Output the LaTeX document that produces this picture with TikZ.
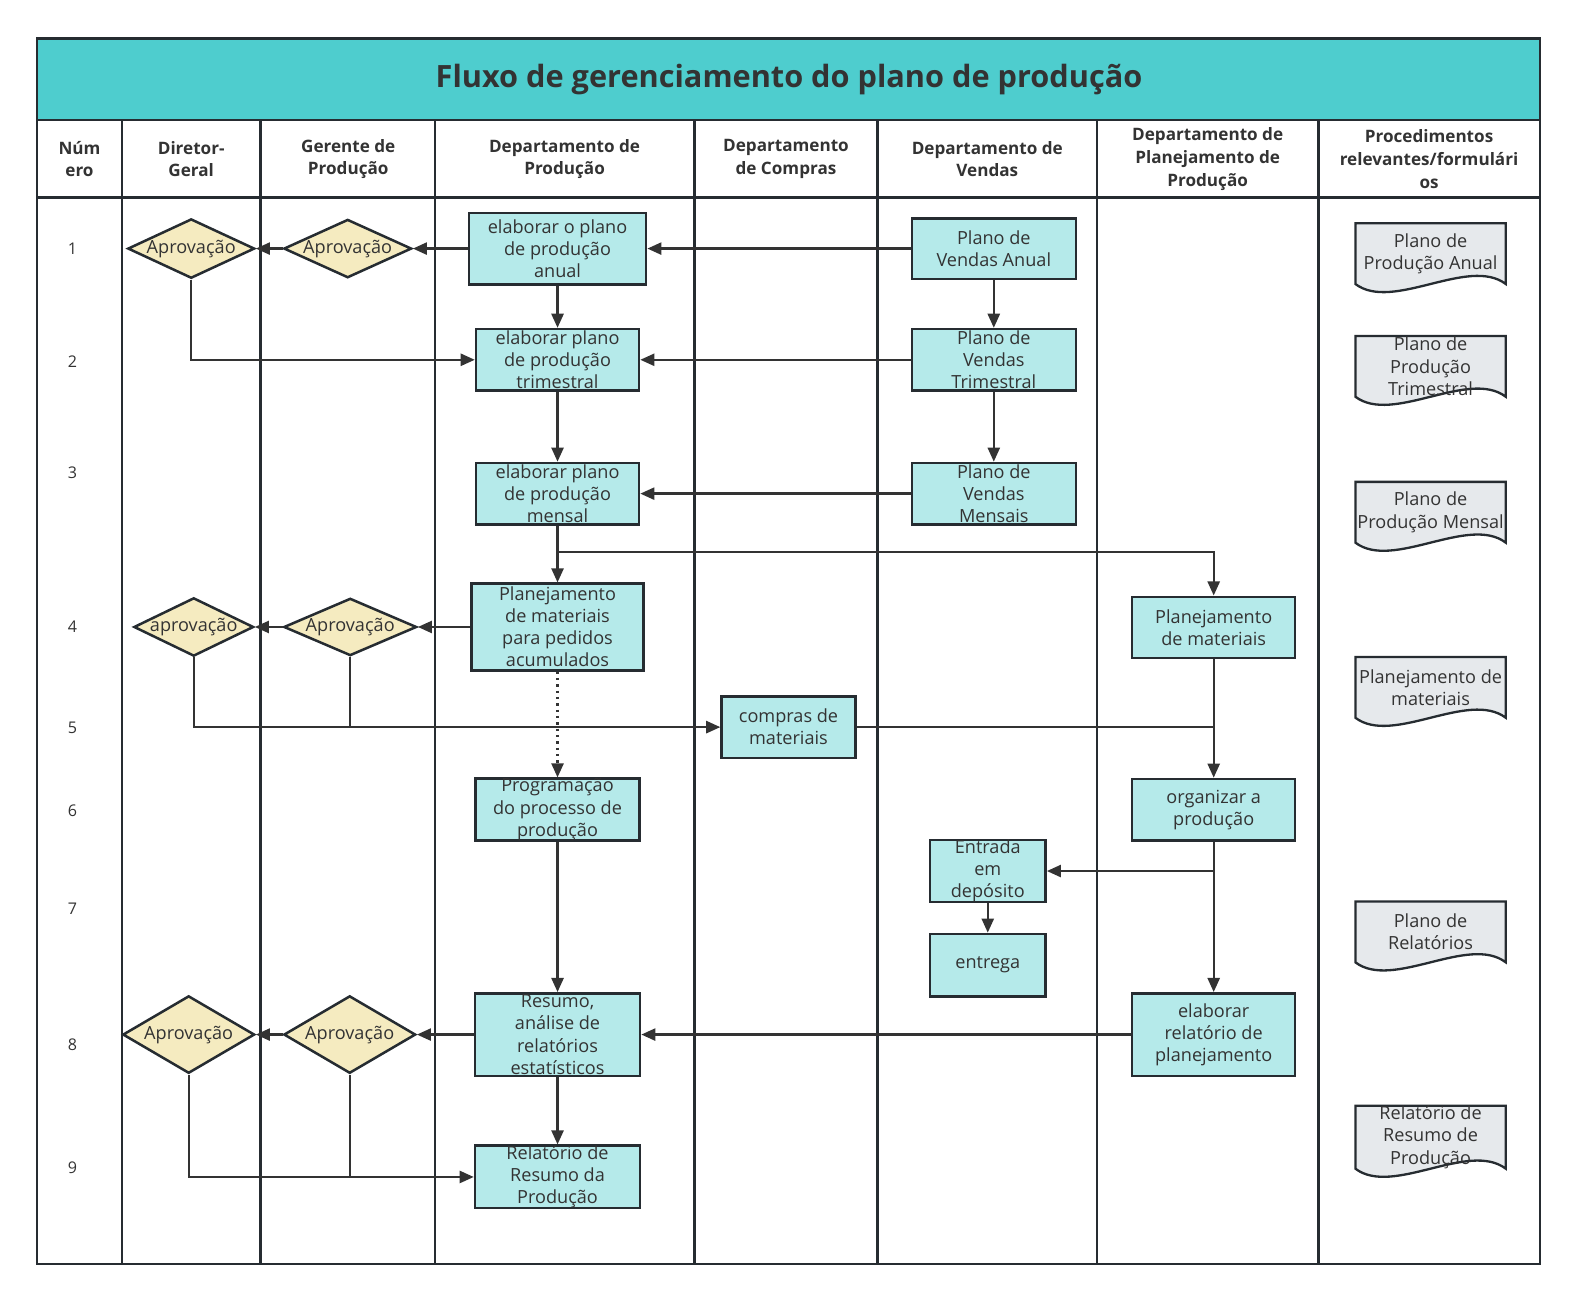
\documentclass[tikz,border=0pt]{standalone}
\usepackage{fontspec}
\setmainfont{Open Sans}
\usetikzlibrary{arrows.meta, calc, shapes.geometric, backgrounds}
\definecolor{titlecyan}{HTML}{4ECDCE}
\definecolor{boxcyan}{HTML}{B5EAEA}
\definecolor{diacream}{HTML}{F5EBC0}
\definecolor{docgray}{HTML}{E6E9EC}
\definecolor{inkdark}{HTML}{333333}
\definecolor{griddark}{HTML}{262C31}

\begin{document}
\begin{tikzpicture}[
    x=1pt, y=-1pt,
    every node/.style={text=inkdark, font=\fontsize{18}{22}\selectfont, align=center},
    grid/.style={line width=2.5pt, griddark},
    head/.style={font=\bfseries\fontsize{17}{22.5}\selectfont},
    num/.style={font=\fontsize{16}{20}\selectfont},
    task/.style={draw=griddark, line width=2.5pt, fill=boxcyan, inner sep=0pt, minimum width=162pt, minimum height=61pt},
    dia/.style={diamond, draw=griddark, line width=2.5pt, fill=diacream, inner sep=0pt, minimum width=128pt, minimum height=58pt},
    doc/.style={inner sep=0pt, minimum width=149pt, minimum height=60pt},
    docline/.style={draw=griddark, line width=2.3pt, fill=docgray},
    flow/.style={line width=2.3pt, inkdark, -{Triangle[length=14pt, width=12pt]}},
    link/.style={line width=2.3pt, inkdark}
]
\useasboundingbox (0,0) rectangle (1568,1294);

% Title band
\fill[titlecyan] (37,38) rectangle (1530,119);
\node[font=\bfseries\fontsize{30.5}{36}\selectfont] (title) at (784,79) {Fluxo de gerenciamento do plano de produção};

% Lanes
\draw[grid] (37,38) rectangle (1530,1256);
\draw[grid] (37,119) -- (1530,119);
\draw[grid] (37,196) -- (1530,196);
\foreach \x in {121,259,432,690,872,1090,1310}
    \draw[grid] (\x,119) -- (\x,1256);

% Headers
\node[head] (hnum) at (79,158) {Núm\\ero};
\node[head] (hdir) at (190,158) {Diretor-\\Geral};
\node[head] (hger) at (346,158) {Gerente de\\Produção};
\node[head] (hprod) at (561,158) {Departamento de\\Produção};
\node[head] (hcomp) at (781,158) {Departamento\\de Compras};
\node[head] (hvend) at (981,158) {Departamento de\\Vendas};
\node[head] (hplan) at (1200,158) {Departamento de\\Planejamento de\\Produção};
\node[head] (hproc) at (1420,158) {Procedimentos\\relevantes/formulári\\os};

% Step numbers
\foreach \n/\y in {1/247,2/359,3/470,4/623,5/723,6/806,7/903,8/1038,9/1160}
    \node[num] (n\n) at (72,\y) {\n};

% Approvals
\node[dia, minimum width=126pt, minimum height=59pt] (d1a) at (190,247) {\makebox[0pt]{Aprovação}};
\node[dia, minimum width=127pt] (d1b) at (345.5,247) {\makebox[0pt]{Aprovação}};
\node[dia, minimum width=119pt] (d4a) at (192.5,623) {\makebox[0pt]{aprovação}};
\node[dia, minimum width=132pt, minimum height=57pt] (d4b) at (348,623) {\makebox[0pt]{Aprovação}};
\node[dia, minimum width=131pt, minimum height=77pt] (d8a) at (187.5,1028) {\makebox[0pt]{Aprovação}};
\node[dia, minimum width=131pt, minimum height=77pt] (d8b) at (347.5,1028) {\makebox[0pt]{Aprovação}};

% Production department
\node[task, minimum width=176pt, minimum height=71pt] (a1) at (554,247) {elaborar o plano\\de produção\\anual};
\node[task] (a2) at (554,357.5) {elaborar plano\\de produção\\trimestral};
\node[task] (a3) at (554,490.5) {elaborar plano\\de produção\\mensal};
\node[task, minimum width=171pt, minimum height=86pt] (a4) at (554,623) {Planejamento\\de materiais\\para pedidos\\acumulados};
\node[task, minimum width=163pt] (a6) at (554,804.5) {Programação\\do processo de\\produção};
\node[task, minimum width=164pt, minimum height=82pt] (a8) at (554,1028) {Resumo,\\análise de\\relatórios\\estatísticos};
\node[task, minimum width=164pt] (a9) at (554,1169.5) {Relatório de\\Resumo da\\Produção};

% Purchasing
\node[task, minimum width=133pt] (c5) at (783.5,722.5) {compras de\\materiais};

% Sales
\node[task, minimum width=163pt, minimum height=60pt] (v1) at (987.5,247) {Plano de\\Vendas Anual};
\node[task, minimum width=163pt] (v2) at (987.5,357.5) {Plano de\\Vendas\\Trimestral};
\node[task, minimum width=163pt] (v3) at (987.5,490.5) {Plano de\\Vendas\\Mensais};
\node[task, minimum width=115pt] (v7) at (981.5,865.5) {Entrada\\em\\depósito};
\node[task, minimum width=115pt, minimum height=62pt] (v8) at (981.5,959) {entrega};

% Production planning
\node[task] (p4) at (1206,623.5) {Planejamento\\de materiais};
\node[task] (p6) at (1206,804.5) {organizar a\\produção};
\node[task, minimum height=82pt] (p8) at (1206,1028) {elaborar\\relatório de\\planejamento};

% Forms
\node[doc] (f1) at (1421.5,252) {Plano de\\Produção Anual};
\node[doc] (f2) at (1421.5,364) {Plano de\\Produção\\Trimestral};
\node[doc] (f3) at (1421.5,509) {Plano de\\Produção Mensal};
\node[doc] (f4) at (1421.5,683) {Planejamento de\\materiais};
\node[doc] (f5) at (1421.5,926) {Plano de\\Relatórios};
\node[doc] (f6) at (1421.5,1130) {Relatório de\\Resumo de\\Produção};
\begin{scope}[on background layer]
\foreach \f in {f1,f2,f3,f4,f5,f6}
    \draw[docline] (\f.north west) -- (\f.north east) -- (\f.south east)
        .. controls +(-37,-28) and +(37,28) .. (\f.south west) -- cycle;
\end{scope}

% Rows 1-3
\draw[flow] (v1.west) -- (a1.east);
\draw[flow] (a1.west) -- (d1b.east);
\draw[flow] (d1b.west) -- (d1a.east);
\draw[flow] (d1a.south) |- (a2.west);
\draw[flow] (a1.south) -- (a2.north);
\draw[flow] (v1.south) -- (v2.north);
\draw[flow] (v2.west) -- (a2.east);
\draw[flow] (a2.south) -- (a3.north);
\draw[flow] (v2.south) -- (v3.north);
\draw[flow] (v3.west) -- (a3.east);
\draw[flow] (a3.south) -- (a4.north);
\coordinate (j3) at ($(a3.south)+(0,26)$);
\draw[flow] (j3) -| (p4.north);

% Rows 4-7
\draw[flow] (a4.west) -- (d4b.east);
\draw[flow] (d4b.west) -- (d4a.east);
\draw[flow] (d4a.south) |- (c5.west);
\draw[link] (d4b.south) -- (d4b.south |- c5.west);
\draw[flow, dash pattern=on 2.3pt off 4pt] (a4.south) -- (a6.north);
\draw[link] (c5.east) -- (c5.east -| p4.south);
\draw[flow] (p4.south) -- (p6.north);
\draw[flow] (p6.south) -- (p8.north);
\draw[flow] (p6.south |- v7.east) -- (v7.east);
\draw[flow] (v7.south) -- (v8.north);

% Rows 8-9
\draw[flow] (a6.south) -- (a8.north);
\draw[flow] (p8.west) -- (a8.east);
\draw[flow] (a8.west) -- (d8b.east);
\draw[flow] (d8b.west) -- (d8a.east);
\draw[flow] (d8a.south) |- (a9.west);
\draw[link] (d8b.south) -- (d8b.south |- a9.west);
\draw[flow] (a8.south) -- (a9.north);
\end{tikzpicture}
\end{document}
